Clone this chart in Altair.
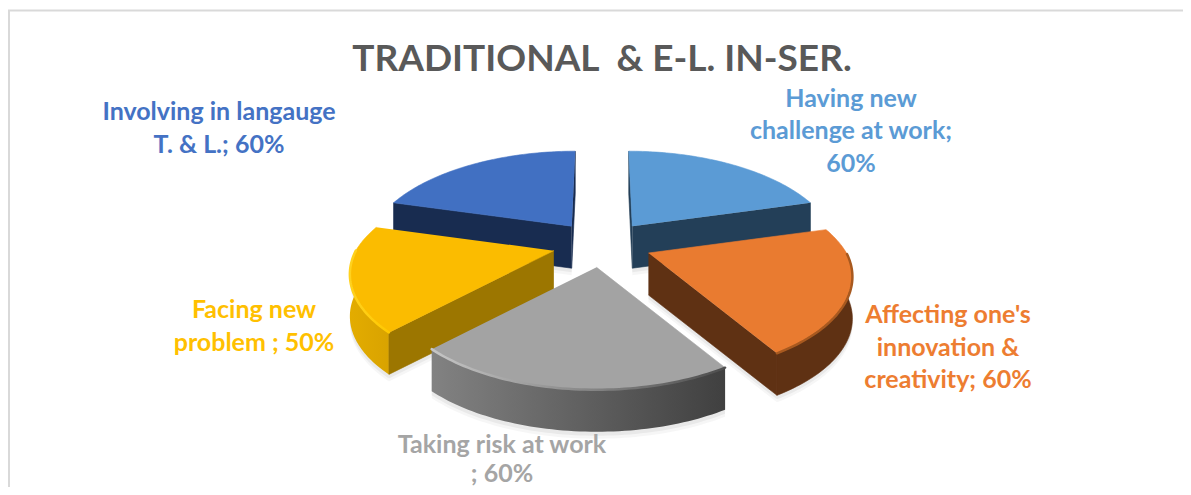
import math
import altair as alt
import pandas as pd

TITLE = "TRADITIONAL\u00a0 & E-L. IN-SER."
NAMES = ["Having new challenge at work", "Affecting one's innovation & creativity",
         "Taking risk at work", "Facing new problem", "Involving in langauge T. & L."]
VALUES = [60, 60, 60, 50, 60]
LABEL_LINES = [["Having new", "challenge at work;", "60%"],
               ["Affecting one's", "innovation &", "creativity; 60%"],
               ["Taking risk at work", "; 60%"],
               ["Facing new", "problem ; 50%"],
               ["Involving in langauge", "T. & L.; 60%"]]
LABEL_X = [851, 948, 502, 254, 219]
LABEL_Y = [131, 347.5, 459.5, 326.5, 128.5]
LABEL_GAP = [32.5, 32.5, 29.5, 32.5, 32.5]
TOP_DRAW = ["#5B9BD5", "#E97B30", "#A3A3A3", "#FBBC00", "#4170C2"]
TEXT = ["#5B9BD5", "#ED7D31", "#A5A5A5", "#FFC000", "#4472C4"]
WALL = ["#233F58", "#5F3113", "#6A6A6A", "#9C7600", "#182C50"]
RIM_L = ["#233F58", "#5F3113", "#828282", "#E3AC00", "#182C50"]
RIM_R = ["#233F58", "#5F3113", "#404040", "#D9A300", "#182C50"]
EDGE_L = ["#5B9BD5", "#A8591F", "#C6C6C6", "#FFD21F", "#4472C4"]
EDGE_R = ["#5B9BD5", "#A8591F", "#4E4E4E", "#FFC800", "#4472C4"]
DRAW_ORDER = [4, 0, 3, 1, 2]

CX, CY = 602, 244.5
EX, EY = 50, 23
RX, RY, K = 198, 93, 0.24
H = 42
W, HT = 1175, 479


def pt(a, cx, cy):
    t = math.radians(a)
    u, v = math.sin(t), math.cos(t)
    f = 1 / (1 + K * v)
    lean = (cx - CX) * (f - 1) * 0.6 if v > 0 else 0
    return cx + RX * u * f + lean, cy - RY * v * f


def frame(points):
    return pd.DataFrame([{"x": x, "y": y, "i": i} for i, (x, y) in enumerate(points)])


X = alt.X("x:Q", scale=alt.Scale(domain=[8, 8 + W], range=[0, W], nice=False, zero=False), axis=None)
Y = alt.Y("y:Q", scale=alt.Scale(domain=[8, 8 + HT], range=[0, HT], nice=False, zero=False), axis=None)


def poly(points, fill, stroke=None, opacity=1.0, sw=0.6):
    return alt.Chart(frame(points)).mark_line(
        fill=fill, stroke=stroke if stroke else fill,
        strokeWidth=sw, opacity=opacity, interpolate="linear", clip=True
    ).encode(x=X, y=Y, order=alt.Order("i:Q"))


def grad(c1, c2):
    return alt.LinearGradient(gradient="linear", x1=0, x2=1, y1=0, y2=0,
                              stops=[alt.GradientStop(color=c1, offset=0), alt.GradientStop(color=c2, offset=1)])


total = sum(VALUES)
spans, start = [], 0.0
for v in VALUES:
    spans.append((start, start + 360 * v / total))
    start += 360 * v / total

shadow_layers, layers = [], []

# border
border = alt.Chart(frame([(9, 487), (9, 10.5), (1183, 10.5)])).mark_line(
    color="#D9D9D9", strokeWidth=2).encode(x=X, y=Y, order=alt.Order("i:Q"))

for idx in DRAW_ORDER:
    a0, a1 = spans[idx]
    b = math.radians((a0 + a1) / 2)
    cx, cy = CX + EX * math.sin(b), CY - EY * math.cos(b)
    arc = [pt(a0 + (a1 - a0) * s / 60, cx, cy) for s in range(61)]

    walls = []
    # radial walls whose outer side faces the viewer
    first, last = arc[0], arc[-1]
    if first[0] - cx < -0.5:
        walls.append([(cx, cy), first, (first[0], first[1] + H), (cx, cy + H)])
    if last[0] - cx > 0.5:
        walls.append([(cx, cy), last, (last[0], last[1] + H), (cx, cy + H)])
    # rim, on the part of the arc running along the front
    rim = [p for s, p in enumerate(arc) if 90 <= a0 + (a1 - a0) * s / 60 <= 270]
    rim_wall = rim + [(x, y + H) for x, y in reversed(rim)] if len(rim) > 1 else None

    for w in walls + ([rim_wall] if rim_wall else []):
        for off, op in ((7, 0.035), (4, 0.05)):
            shadow_layers.append(poly([(x, y + off) for x, y in w], "#000000", "#000000", op, 0))

    if rim_wall and RIM_L[idx] != RIM_R[idx]:
        layers.append(poly(rim_wall, grad(RIM_L[idx], RIM_R[idx]), "#00000000", 1, 0))
    elif rim_wall:
        layers.append(poly(rim_wall, RIM_L[idx]))
    for w in walls:
        layers.append(poly(w, WALL[idx]))
    # top face
    layers.append(poly([(cx, cy)] + arc, TOP_DRAW[idx]))
    # bevel at the top edge of the rim
    if len(rim) > 1:
        layers.append(alt.Chart(frame(rim)).mark_line(
            stroke=grad(EDGE_L[idx], EDGE_R[idx]), strokeWidth=2.5, strokeCap="round"
        ).encode(x=X, y=Y, order=alt.Order("i:Q")))

rows = []
for name, lines, lx, ly, gap, col in zip(NAMES, LABEL_LINES, LABEL_X, LABEL_Y, LABEL_GAP, TEXT):
    for j, line in enumerate(lines):
        rows.append({"x": lx, "y": ly + (j - (len(lines) - 1) / 2) * gap, "t": line, "c": col, "name": name})

labels = alt.Chart(pd.DataFrame(rows)).mark_text(
    font="Lato", fontWeight="bold", fontSize=25, align="center", baseline="middle"
).encode(x=X, y=Y, text="t:N", color=alt.Color("c:N", scale=None))

title = alt.Chart(pd.DataFrame([{"x": 602, "y": 60, "t": TITLE}])).mark_text(
    font="Lato", fontWeight="bold", fontSize=37, align="center", baseline="middle", color="#595959"
).encode(x=X, y=Y, text="t:N")

chart = alt.layer(border, *shadow_layers, *layers, labels, title).properties(
    width=W, height=HT, padding=0, background="white",
    autosize=alt.AutoSizeParams(type="none")
).configure_view(stroke=None)

chart.save("out.html", embed_options={"renderer": "svg", "actions": False})
